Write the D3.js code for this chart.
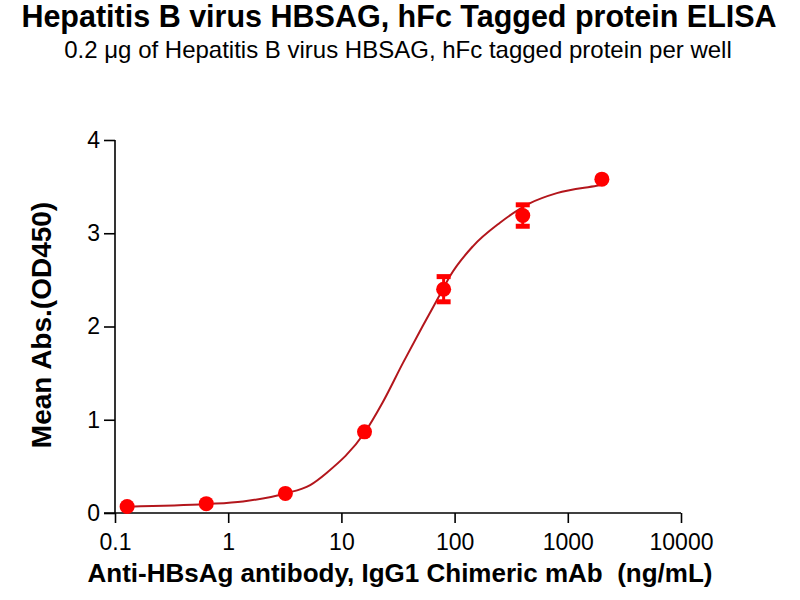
<!DOCTYPE html>
<html>
<head>
<meta charset="utf-8">
<script src="https://cdn.jsdelivr.net/npm/d3@7"></script>
<style>
  body { margin: 0; background: #fff; }
  svg { font-family: Arial, "Liberation Sans", sans-serif; }
</style>
</head>
<body>
<div id="graph"></div>
<script>
// Concentrations (ng/mL) et moyennes OD450
const conc = [0.128, 0.64, 3.2, 16, 80, 400, 2000];
const meanOD = [0.07, 0.10, 0.21, 0.87, 2.40, 3.19, 3.58];
const errOD = [0, 0, 0, 0, 0.135, 0.115, 0];

// Courbe ajustée
const fitX = [0.13, 0.65, 1.35, 3.2, 5.3, 7.4, 16, 23, 35, 52, 78, 90, 145, 250, 460, 800, 1800, 2000];
const fitY = [0.068, 0.096, 0.124, 0.21, 0.30, 0.43, 0.86, 1.18, 1.61, 2.0, 2.39, 2.53, 2.86, 3.11, 3.32, 3.43, 3.51, 3.52];

const xTicks = [0.1, 1, 10, 100, 1000, 10000];
const xTickLabels = ["0.1", "1", "10", "100", "1000", "10000"];
const yTicks = [0, 1, 2, 3, 4];

const margin = { top: 140, right: 119, bottom: 87, left: 115 };
const W = 800, H = 600;
const width = W - margin.left - margin.right;
const height = H - margin.top - margin.bottom;

const svg = d3.select("#graph").append("svg")
    .attr("width", W)
    .attr("height", H);

// Titres
svg.append("text")
    .attr("x", 399).attr("y", 27)
    .attr("text-anchor", "middle")
    .style("font-size", "30.5px").style("font-weight", "bold")
    .text("Hepatitis B virus HBSAG, hFc Tagged protein ELISA");

svg.append("text")
    .attr("x", 398).attr("y", 58)
    .attr("text-anchor", "middle")
    .style("font-size", "24px")
    .text("0.2 \u03bcg of Hepatitis B virus HBSAG, hFc tagged protein per well");

const g = svg.append("g")
    .attr("transform", "translate(" + margin.left + "," + margin.top + ")");

// Echelles
const x = d3.scaleLog().domain([0.1, 10000]).range([0, width]);
const y = d3.scaleLinear().domain([0, 4]).range([height, 0]);

// Axes
const xAxis = g.append("g")
    .attr("transform", "translate(0," + height + ")")
    .call(d3.axisBottom(x).tickValues(xTicks).tickSize(10).tickPadding(10)
        .tickFormat((d, i) => xTickLabels[i]));

const yAxis = g.append("g")
    .call(d3.axisLeft(y).tickValues(yTicks).tickSize(11).tickPadding(4)
        .tickFormat(d3.format("d")));

[xAxis, yAxis].forEach(a => {
    a.select(".domain").attr("stroke", "#000").attr("stroke-width", 1.6)
        .attr("d", a === xAxis ? "M-11,0H" + width : "M0,0V" + height);
    a.selectAll(".tick line").attr("stroke", "#000").attr("stroke-width", 1.6);
    a.selectAll(".tick text").style("font-size", "23px").attr("fill", "#000")
        .style("font-family", "Arial, 'Liberation Sans', sans-serif");
});
xAxis.selectAll(".tick text").attr("dy", "0.72em");

// Libellés des axes
svg.append("text")
    .attr("x", 400).attr("y", 582)
    .attr("text-anchor", "middle")
    .style("font-size", "26px").style("font-weight", "bold")
    .style("white-space", "pre")
    .attr("xml:space", "preserve")
    .text("Anti-HBsAg antibody, IgG1 Chimeric mAb  (ng/mL)");

svg.append("text")
    .attr("transform", "translate(51,325) rotate(-90)")
    .attr("text-anchor", "middle")
    .style("font-size", "28px").style("font-weight", "bold")
    .text("Mean Abs.(OD450)");

// Courbe
const fitData = fitX.map((d, i) => ({ x: d, y: fitY[i] }));
g.append("path")
    .datum(fitData)
    .attr("fill", "none")
    .attr("stroke", "#b3161c")
    .attr("stroke-width", 2)
    .attr("d", d3.line().x(d => x(d.x)).y(d => y(d.y)).curve(d3.curveMonotoneX));

// Points et barres d'erreur
const pts = conc.map((d, i) => ({ x: d, y: meanOD[i], e: errOD[i] }));
const eb = g.selectAll(".err").data(pts.filter(d => d.e > 0)).enter().append("g")
    .attr("stroke", "#ff0000");
eb.append("line")
    .attr("x1", d => x(d.x)).attr("x2", d => x(d.x))
    .attr("y1", d => y(d.y - d.e)).attr("y2", d => y(d.y + d.e))
    .attr("stroke-width", 3);
eb.append("line")
    .attr("x1", d => x(d.x) - 7).attr("x2", d => x(d.x) + 7)
    .attr("y1", d => y(d.y + d.e)).attr("y2", d => y(d.y + d.e))
    .attr("stroke-width", 5);
eb.append("line")
    .attr("x1", d => x(d.x) - 7).attr("x2", d => x(d.x) + 7)
    .attr("y1", d => y(d.y - d.e)).attr("y2", d => y(d.y - d.e))
    .attr("stroke-width", 5);

g.selectAll(".pt").data(pts).enter().append("circle")
    .attr("class", "pt")
    .attr("cx", d => x(d.x))
    .attr("cy", d => y(d.y))
    .attr("r", 7.5)
    .attr("fill", "#ff0000");
</script>
</body>
</html>
